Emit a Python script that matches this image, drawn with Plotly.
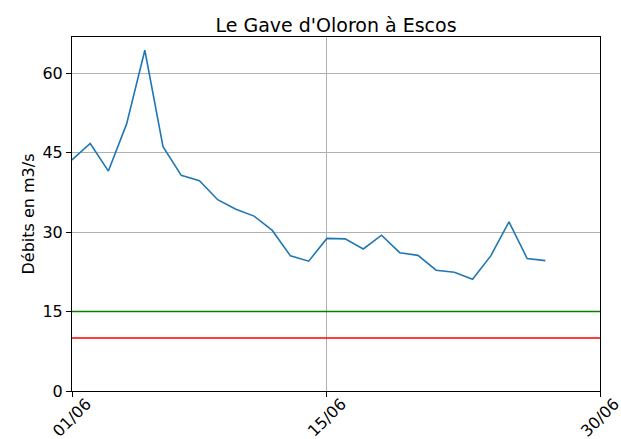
import plotly.graph_objects as go

days = [f"2024-06-{d:02d}" for d in range(1, 28)]
debits = [43.6, 46.7, 41.5, 50.4, 64.3, 46.1, 40.7, 39.7, 36.1, 34.3, 33.0,
          30.3, 25.5, 24.5, 28.8, 28.7, 26.8, 29.4, 26.1, 25.6, 22.8, 22.4,
          21.1, 25.5, 31.9, 25.0, 24.6]
seuil_vert = 15
seuil_rouge = 10
tick_dates = ["2024-06-01", "2024-06-15", "2024-06-30"]
tick_labels = ["01/06", "15/06", "30/06"]
y_ticks = [0, 15, 30, 45, 60]

FONT = "DejaVu Sans"

fig = go.Figure()
fig.add_trace(go.Scatter(x=days, y=debits, mode="lines",
                         line=dict(color="#1f77b4", width=1.6), showlegend=False))
fig.add_trace(go.Scatter(x=[tick_dates[0], tick_dates[-1]], y=[seuil_vert, seuil_vert],
                         mode="lines", line=dict(color="#008000", width=1.6), showlegend=False))
fig.add_trace(go.Scatter(x=[tick_dates[0], tick_dates[-1]], y=[seuil_rouge, seuil_rouge],
                         mode="lines", line=dict(color="#ff0000", width=1.6), showlegend=False))

for d, t in zip(tick_dates, tick_labels):
    fig.add_annotation(x=d, xref="x", y=-0.075, yref="paper", text=t, showarrow=False,
                       textangle=-45, font=dict(family=FONT, size=16, color="black"),
                       xanchor="center", yanchor="middle")

fig.update_layout(
    width=621, height=439,
    margin=dict(l=72, r=21, t=37, b=48),
    plot_bgcolor="white", paper_bgcolor="white",
    font=dict(family=FONT, size=16, color="black"),
    title=dict(text="Le Gave d'Oloron à Escos", x=0.5, xref="paper", y=0.943, yanchor="middle",
               font=dict(family=FONT, size=19, color="black")),
)
fig.update_xaxes(type="date", range=[tick_dates[0], tick_dates[-1]],
                 tickvals=tick_dates, showticklabels=False,
                 showgrid=True, gridcolor="#b0b0b0", gridwidth=0.8,
                 showline=True, linecolor="black", linewidth=1, mirror=True,
                 ticks="outside", ticklen=5, tickcolor="black", zeroline=False)
fig.update_yaxes(range=[0, 66.8], tickvals=y_ticks, ticktext=[str(v) for v in y_ticks],
                 showgrid=True, gridcolor="#b0b0b0", gridwidth=0.8,
                 showline=True, linecolor="black", linewidth=1, mirror=True,
                 ticks="outside", ticklen=5, tickcolor="black", zeroline=False,
                 title=dict(text="Débits en m3/s", standoff=3,
                            font=dict(family=FONT, size=16, color="black")))

fig.write_html("out.html")
